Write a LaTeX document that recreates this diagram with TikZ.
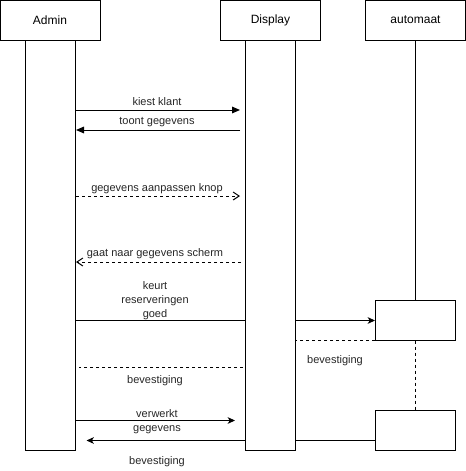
\documentclass[tikz,border=0pt]{standalone}
\usepackage{fontspec}
\setmainfont{Liberation Sans}
\usetikzlibrary{positioning,arrows.meta,backgrounds}
\tikzset{
  head/.style={draw, fill=white, line width=0.75pt, minimum width=75pt, minimum height=30pt, inner sep=0pt, font=\fontsize{9}{11}\selectfont},
  bar/.style={draw, fill=white, line width=0.75pt, minimum width=37.5pt, minimum height=307.5pt, inner sep=0pt},
  actbox/.style={draw, fill=white, line width=0.75pt, minimum width=60pt, minimum height=30pt, inner sep=0pt},
  msg/.style={line width=0.75pt},
  reply/.style={line width=0.75pt, dash pattern=on 2.25pt off 2.25pt},
  lbl/.style={font=\fontsize{8.25}{10.5}\selectfont, inner sep=0pt, align=center, text=black!85},
  blocktip/.style={-{Triangle[length=6pt,width=5pt]}},
  classictip/.style={-{Stealth[length=5.5pt,width=5pt,inset=1.5pt]}},
  opentip/.style={-{Straight Barb[length=4.5pt,width=6pt]}}
}

\begin{document}
\begin{tikzpicture}[x=0.75pt, y=-0.75pt]
  \useasboundingbox (0,0) rectangle (466,471);
  % ------------------------------------------------------------ lifelines
  \node[head] (hadmin) at (50,20) {Admin};
  \node[head] (hdisp) at (270.5,20) {Display};
  \node[head] (hauto) at (415.5,20) {automaat};
  \node[bar] (abar) at (50.5,245) {};
  \node[bar] (dbar) at (270.5,245) {};
  \node[actbox] (box1) at (415.5,320) {};
  \node[actbox] (box2) at (415.5,430) {};
  \draw[msg] (hauto.south) -- (box1.north);
  \draw[reply] (box1.south) -- (box2.north);
  % ------------------------------------------------------------ Admin <-> Display
  \draw[msg, blocktip, shorten >=3.75pt] (abar.east |- 0,110) -- (dbar.west |- 0,110);
  \node[lbl] (lkiest) at (157,101.5) {kiest klant};
  \draw[msg, blocktip, shorten <=3.75pt] (dbar.west |- 0,130) -- (abar.east |- 0,130);
  \node[lbl] (ltoont) at (157,122.5) {toont gegevens};
  \draw[reply, opentip, shorten >=3.75pt] (abar.east |- 0,196) -- (dbar.west |- 0,196);
  \node[lbl] (lknop) at (157,188.5) {gegevens aanpassen knop};
  \draw[reply, opentip, shorten <=3pt] (dbar.west |- 0,262) -- (abar.east |- 0,262);
  \node[lbl] (lscherm) at (155,253.5) {gaat naar gegevens scherm};
  % ------------------------------------------------------------ reserveringen
  \begin{scope}[on background layer]
    \draw[msg, classictip] (abar.east |- 0,320.5) -- (box1.west |- 0,320.5);
    \draw[msg, classictip, shorten >=7.9pt] (box2.west |- 0,440.5) -- (abar.east |- 0,440.5);
  \end{scope}
  \node[lbl] (lkeurt) at (155,301) {keurt\\reserveringen\\goed};
  \draw[reply] (box1.south west) -- (dbar.east |- box1.south west);
  \node[lbl] (lbev1) at (335,361) {bevestiging};
  \draw[reply, shorten <=1.5pt, shorten >=2pt] (dbar.west |- 0,367.5) -- (abar.east |- 0,367.5);
  \node[lbl] (lbev2) at (155,381) {bevestiging};
  % ------------------------------------------------------------ verwerken
  \draw[msg, classictip, shorten >=7.5pt] (abar.east |- 0,420.5) -- (dbar.west |- 0,420.5);
  \node[lbl] (lverwerkt) at (157,421.5) {verwerkt\\gegevens};
  \node[lbl] (lbev3) at (157,462) {bevestiging};
\end{tikzpicture}
\end{document}
